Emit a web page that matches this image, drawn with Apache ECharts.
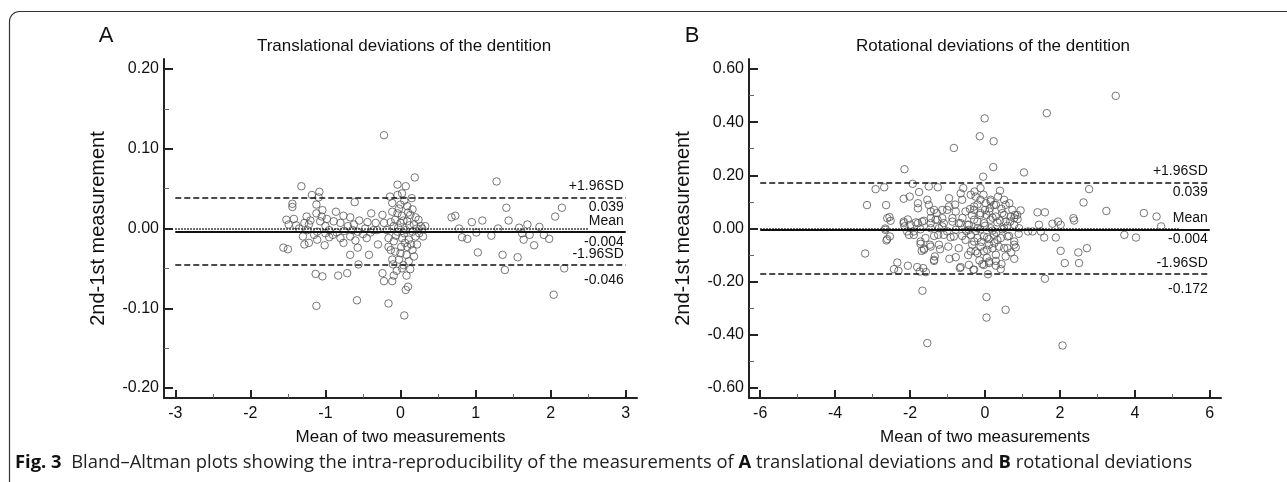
<!DOCTYPE html>
<html>
<head>
<meta charset="utf-8">
<script src="https://cdn.jsdelivr.net/npm/echarts@6/dist/echarts.min.js"></script>
<style>
html,body{margin:0;padding:0;background:#fff;}
#chart{width:1287px;height:482px;}
</style>
</head>
<body>
<div id="chart"></div>
<script>
// ---------------- DATA ----------------
const panelLetters = ['A', 'B'];
const panelTitles = ['Translational deviations of the dentition', 'Rotational deviations of the dentition'];
const xAxisName = 'Mean of two measurements';
const yAxisName = '2nd-1st measurement';

// Panel A: translational deviations [mean, difference]
const translationalPoints = [
  [-1.32,0.053],[-1.08,0.046],[-1.18,0.042],[-1.09,0.039],[-1.44,0.031],[-1.44,0.027],[-1.12,0.030],[-1.04,0.023],
  [-0.61,0.033],[-1.52,0.011],[-1.42,0.012],[-1.12,0.019],[-0.86,0.021],[-0.76,0.016],[-0.67,0.014],[-0.39,0.019],
  [-1.49,0.005],[-1.39,0.004],[-1.28,0.007],[-1.22,0.005],[-1.07,0.009],[-0.98,0.012],[-0.89,0.009],[-0.80,0.007],
  [-0.62,0.005],[-0.44,0.008],[-0.33,0.007],[-1.24,-0.002],[-1.11,-0.004],[-1.00,-0.006],[-0.85,-0.005],[-0.75,-0.003],
  [-0.64,-0.002],[-0.57,-0.004],[-0.47,0.000],[-0.36,-0.002],[-1.28,-0.020],[-1.22,-0.018],[-1.11,-0.014],[-1.01,-0.021],
  [-0.95,-0.011],[-0.76,-0.018],[-0.67,-0.010],[-0.57,-0.024],[-0.45,-0.012],[-0.30,-0.020],[-1.56,-0.024],[-1.50,-0.026],
  [-0.67,-0.033],[-0.56,-0.045],[-0.42,-0.033],[-1.13,-0.057],[-1.04,-0.060],[-0.83,-0.059],[-0.71,-0.056],[-1.12,-0.097],
  [-0.58,-0.090],[-1.20,0.010],[-1.15,-0.008],[-1.00,0.003],[-0.95,-0.002],[-0.90,-0.008],[-0.70,0.003],[-0.55,0.010],
  [-0.50,-0.007],[-1.30,-0.010],[-1.35,0.000],[-1.25,0.015],[-1.05,0.015],[-0.80,-0.012],[-0.60,-0.015],[-0.40,-0.005],
  [-0.22,0.117],[0.19,0.064],[-0.04,0.055],[0.07,0.053],[-0.04,0.042],[-0.11,0.032],[0.00,0.030],[0.09,0.028],
  [0.16,0.024],[-0.11,0.021],[-0.04,0.019],[0.02,0.016],[0.13,0.017],[0.20,0.014],[0.24,0.011],[-0.07,0.011],
  [-0.13,0.008],[0.00,0.007],[0.09,0.009],[0.18,0.005],[0.27,0.003],[0.33,0.003],[-0.24,0.017],[-0.22,0.007],
  [-0.09,0.003],[-0.18,-0.002],[-0.04,-0.004],[0.07,-0.002],[0.16,-0.004],[-0.31,-0.002],[-0.16,-0.012],[-0.09,-0.016],
  [0.02,-0.012],[0.11,-0.014],[0.20,-0.010],[-0.16,-0.023],[-0.13,-0.027],[-0.07,-0.029],[0.00,-0.031],[0.09,-0.023],
  [0.16,-0.027],[0.22,-0.020],[0.18,-0.035],[0.11,-0.041],[-0.02,-0.039],[-0.11,-0.039],[0.02,-0.050],[0.04,-0.046],
  [0.13,-0.051],[-0.09,-0.059],[-0.11,-0.066],[-0.22,-0.066],[-0.24,-0.056],[0.07,-0.077],[0.10,-0.073],[-0.16,-0.094],
  [0.05,-0.109],[0.05,0.035],[-0.02,0.025],[0.12,0.004],[0.05,-0.006],[-0.06,-0.009],[0.14,-0.020],[0.06,-0.018],
  [0.01,-0.023],[-0.03,0.001],[0.22,0.000],[0.10,0.020],[0.04,0.010],[-0.10,-0.045],[0.08,-0.033],[0.02,0.044],
  [0.25,-0.006],[0.15,0.038],[-0.14,0.040],[0.08,-0.059],[-0.05,-0.053],
  [1.28,0.059],[1.41,0.026],[2.15,0.026],[2.06,0.015],[0.68,0.014],[0.73,0.016],[0.95,0.008],[1.09,0.010],
  [1.44,0.010],[1.69,0.005],[1.58,0.001],[0.78,0.000],[1.30,0.000],[1.85,0.002],[0.82,-0.011],[0.89,-0.013],
  [1.01,-0.005],[1.21,-0.009],[1.62,-0.006],[1.64,-0.014],[1.72,-0.008],[1.91,-0.008],[1.98,-0.013],[1.78,-0.021],
  [1.03,-0.030],[1.36,-0.033],[1.56,-0.036],[1.39,-0.052],[2.18,-0.050],[2.04,-0.083],[0.30,-0.010],[0.29,0.000]
];

// Panel B: rotational deviations [mean, difference]
const rotationalPoints = [
  [3.49,0.499],[1.65,0.434],[-0.01,0.414],[-0.14,0.347],[0.23,0.328],[-0.83,0.303],[0.22,0.231],[1.04,0.211],
  [-0.05,0.195],[-2.15,0.223],[2.78,0.148],[2.63,0.098],[3.24,0.066],[4.24,0.058],[4.58,0.045],[4.70,0.008],
  [3.72,-0.024],[4.03,-0.034],[2.36,0.039],[2.38,0.030],[1.95,0.026],[2.02,0.014],[1.80,0.018],[1.44,0.014],
  [1.40,0.061],[1.60,0.061],[0.95,0.068],[0.80,0.051],[0.87,0.035],[1.15,-0.011],[1.27,-0.011],[1.49,-0.011],
  [1.58,-0.034],[1.89,-0.034],[2.02,-0.084],[2.49,-0.090],[2.72,-0.074],[2.13,-0.130],[2.51,-0.130],[1.60,-0.189],
  [0.04,-0.258],[0.55,-0.306],[0.04,-0.335],[2.07,-0.440],[-1.54,-0.431],[-1.67,-0.234],
  [-0.38,0.127],[-0.12,0.152],[-0.04,0.127],[0.15,0.102],[0.40,0.142],[0.51,0.108],[0.29,0.089],[0.44,0.074],
  [0.11,0.064],[-0.13,0.051],[-0.29,0.083],[0.20,0.041],[0.51,0.051],[0.78,0.039],[0.67,0.026],[0.91,0.001],
  [0.51,0.001],[0.15,0.001],[-0.20,0.001],[0.60,-0.030],[0.33,-0.043],[-0.03,-0.030],[-0.29,-0.049],[0.78,-0.049],
  [0.82,-0.071],[0.51,-0.074],[0.20,-0.074],[-0.03,-0.086],[-0.25,-0.086],[0.55,-0.105],[0.29,-0.122],[0.44,-0.134],
  [0.11,-0.130],[-0.07,-0.134],[0.08,-0.172],[0.78,-0.114],[-0.31,-0.155],
  [-2.92,0.148],[-2.69,0.155],[-1.93,0.168],[-3.15,0.088],[-2.64,0.088],[-2.55,0.043],[-2.52,0.029],[-2.66,0.000],
  [-2.63,-0.045],[-2.54,-0.030],[-3.20,-0.094],[-2.34,-0.128],[-2.43,-0.153],[-2.31,-0.159],[-2.06,-0.140],[-1.81,-0.145],
  [-1.65,-0.149],[-1.74,-0.162],[-1.58,-0.164],[-2.17,0.112],[-2.01,0.120],[-1.76,0.137],[-1.50,0.158],[-1.26,0.155],
  [-1.54,0.108],[-1.79,0.095],[-1.79,0.076],[-1.45,0.064],[-1.29,0.058],[-1.01,0.070],[-0.96,0.114],[-0.96,0.083],
  [-2.17,0.020],[-2.06,0.034],[-1.99,0.014],[-1.79,0.020],[-1.63,0.029],[-1.45,0.020],[-1.32,0.033],[-1.14,0.039],
  [-0.87,0.039],[-0.65,0.132],[-0.58,0.152],[-0.52,0.064],[-0.40,0.073],[-0.70,0.020],[-0.47,0.014],[-0.29,0.033],
  [-2.15,0.008],[-2.03,-0.024],[-1.72,-0.049],[-1.69,-0.084],[-1.47,-0.061],[-1.63,-0.076],[-1.34,-0.105],[-1.36,-0.122],
  [-1.20,-0.078],[-1.25,-0.024],[-1.01,-0.011],[-0.98,-0.068],[-0.78,-0.108],[-0.67,-0.149],[-0.43,-0.137],[-0.29,-0.155],
  [-0.70,-0.074],[-0.52,-0.043],[-0.38,-0.024],[-0.25,-0.009],[-0.83,-0.030],[-1.45,0.001],[-1.14,0.008],[-1.90,-0.011],
  [-0.95,-0.114],
  [-0.28,0.139],[-1.50,0.089],[-0.61,0.108],[-0.25,0.120],[-0.12,0.108],[0.02,0.095],[0.15,0.108],[0.24,0.089],
  [0.13,0.076],[0.55,0.089],[0.73,0.070],[-1.36,0.070],[-1.14,0.070],[-0.78,0.064],[-0.29,0.070],[-0.12,0.058],
  [0.04,0.051],[0.29,0.045],[0.46,0.058],[0.69,0.045],[0.86,0.051],[-2.61,0.039],[-2.17,0.026],[-1.85,0.023],
  [-1.68,0.026],[-1.45,0.039],[-1.27,0.033],[-1.10,0.020],[-0.87,0.026],[-0.65,0.020],[-0.43,0.014],[-0.20,0.026],
  [-0.03,0.020],[0.15,0.033],[0.33,0.023],[0.55,0.026],[0.78,0.014],[-2.66,-0.005],[-2.08,-0.011],[-1.72,-0.003],
  [-1.23,0.001],[-0.78,-0.005],[-0.43,-0.005],[-0.12,-0.003],[0.20,-0.008],[0.46,-0.003],[-2.61,-0.040],[-1.90,-0.024],
  [-1.59,-0.036],[-1.36,-0.028],[-1.10,-0.024],[-0.92,-0.033],[-0.61,-0.028],[-0.20,-0.036],[0.06,-0.033],[0.24,-0.024],
  [0.42,-0.036],[0.64,-0.028],[-1.72,-0.058],[-1.45,-0.068],[-1.23,-0.061],[-0.34,-0.061],[-0.12,-0.068],[0.11,-0.061],
  [0.37,-0.068],[0.60,-0.074],[0.78,-0.061],[-1.63,-0.080],[-0.38,-0.086],[-0.20,-0.093],[0.06,-0.080],[0.29,-0.099],
  [-1.36,-0.118],[-0.65,-0.145],[-0.03,-0.137],[0.11,-0.124],[0.29,-0.140],[0.42,-0.153],
  [0.00,0.010],[0.30,-0.015],[-0.50,-0.010],[0.60,0.010],[-0.10,-0.050],[0.35,0.120],[0.10,-0.040],[-0.60,0.040],
  [0.70,-0.090],[-0.20,0.090],[0.00,0.070],[0.25,-0.055],[0.40,0.030],[-0.35,0.050],[0.05,-0.110],[-0.15,-0.120],
  [0.90,-0.020],[-0.80,0.090],[-0.45,-0.100],[0.65,0.095]
];

// Limits of agreement: [upper, mean, lower]
const transLimitValues = [0.039, -0.004, -0.046];
const rotLimitValues = [0.173, -0.004, -0.172];
const limitNames = ['+1.96SD', 'Mean', '-1.96SD'];
const transLimitLabels = ['0.039', '-0.004', '-0.046'];
const rotLimitLabels = ['0.039', '-0.004', '-0.172'];
const zeroLineEnd = [2.5, 5.2];

// Axis ticks
const transXMajor = [-3, -2, -1, 0, 1, 2, 3];
const transXMinor = [-2.5, -1.5, -0.5, 0.5, 1.5, 2.5];
const transYMajor = [-0.2, -0.1, 0, 0.1, 0.2];
const transYMinor = [-0.15, -0.05, 0.05, 0.15];
const rotXMajor = [-6, -4, -2, 0, 2, 4, 6];
const rotXMinor = [-5, -3, -1, 1, 3, 5];
const rotYMajor = [-0.6, -0.4, -0.2, 0, 0.2, 0.4, 0.6];
const rotYMinor = [-0.5, -0.3, -0.1, 0.1, 0.3, 0.5];
const transXRange = [-3.15, 3.15];
const transYRange = [-0.2125, 0.2125];
const rotXRange = [-6.3, 6.3];
const rotYRange = [-0.6376, 0.6376];

const captionText = '{b|Fig. 3}  Bland\u2013Altman plots showing the intra-reproducibility of the measurements of {b|A} translational deviations and {b|B} rotational deviations';

// ---------------- CHART ----------------
const FONT = '"Liberation Sans", Arial, sans-serif';
const CAPFONT = '"Open Sans", "Noto Sans", sans-serif';
const AX = '#222';
const chart = echarts.init(document.getElementById('chart'), null, {renderer: 'canvas'});

const grids = [
  {left: 164, top: 59, width: 473, height: 339, containLabel: false},
  {left: 749, top: 59, width: 472, height: 339, containLabel: false}
];

function majorX(gi, range, ticks) {
  return {
    type: 'value', gridIndex: gi, min: range[0], max: range[1], position: 'bottom',
    name: xAxisName, nameLocation: 'middle', nameGap: 31,
    nameTextStyle: {fontFamily: FONT, fontSize: 17, color: '#111'},
    axisLine: {show: true, onZero: false, lineStyle: {color: AX, width: 2}},
    axisTick: {show: true, inside: true, length: 8, customValues: ticks, lineStyle: {color: AX, width: 2}},
    axisLabel: {show: true, customValues: ticks, margin: 8, fontFamily: FONT, fontSize: 16, color: '#111', formatter: v => String(v)},
    splitLine: {show: false}
  };
}
function minorX(gi, range, ticks) {
  return {
    type: 'value', gridIndex: gi, min: range[0], max: range[1], position: 'bottom',
    axisLine: {show: false, onZero: false},
    axisTick: {show: true, inside: true, length: 4, customValues: ticks, lineStyle: {color: '#666', width: 1}},
    axisLabel: {show: false}, splitLine: {show: false}
  };
}
function majorY(gi, range, ticks) {
  return {
    type: 'value', gridIndex: gi, min: range[0], max: range[1], position: 'left',
    name: yAxisName, nameLocation: 'middle', nameGap: 56,
    nameTextStyle: {fontFamily: FONT, fontSize: 20, color: '#111'},
    axisLine: {show: true, onZero: false, lineStyle: {color: AX, width: 2}},
    axisTick: {show: true, inside: true, length: 9, customValues: ticks, lineStyle: {color: AX, width: 2}},
    axisLabel: {show: true, customValues: ticks, margin: 5, fontFamily: FONT, fontSize: 16, color: '#111', formatter: v => v.toFixed(2)},
    splitLine: {show: false}
  };
}
function minorY(gi, range, ticks) {
  return {
    type: 'value', gridIndex: gi, min: range[0], max: range[1], position: 'left', offset: 0,
    axisLine: {show: false, onZero: false},
    axisTick: {show: true, inside: true, length: 5, customValues: ticks, lineStyle: {color: '#666', width: 1}},
    axisLabel: {show: false}, splitLine: {show: false}
  };
}

function limitLines(xr, vals, bottomLabels, zeroEnd) {
  const data = [];
  const styles = [
    {type: [6, 3], width: 1.6},
    {type: 'solid', width: 1.8},
    {type: [6, 3], width: 1.6}
  ];
  vals.forEach((v, i) => {
    data.push([
      {coord: [xr[0], v], lineStyle: Object.assign({color: '#111'}, styles[i]),
       label: {show: true, position: 'insideEndTop', formatter: limitNames[i], distance: [2, 4],
               fontFamily: FONT, fontSize: 14, color: '#111'}},
      {coord: [xr[1], v]}
    ]);
    data.push([
      {coord: [xr[0], v], lineStyle: {color: 'rgba(0,0,0,0)', width: 1},
       label: {show: true, position: 'insideEndBottom', formatter: bottomLabels[i], distance: [2, i === 2 ? 8 : 3],
               fontFamily: FONT, fontSize: 14, color: '#111'}},
      {coord: [xr[1], v]}
    ]);
  });
  data.push([
    {coord: [xr[0], 0], lineStyle: {color: '#000', type: [1.5, 1.5], width: 1.6}, label: {show: false}},
    {coord: [zeroEnd, 0]}
  ]);
  return {silent: true, symbol: ['none', 'none'], animation: false, data: data};
}

function scatter(gi, pts, xr, vals, bottomLabels, zeroEnd) {
  return {
    type: 'scatter', xAxisIndex: gi * 2, yAxisIndex: gi * 2, data: pts,
    symbol: 'circle', symbolSize: 7.5,
    itemStyle: {color: 'rgba(255,255,255,0)', borderColor: '#555', borderWidth: 1},
    emphasis: {disabled: true}, animation: false,
    markLine: limitLines(xr, vals, bottomLabels, zeroEnd),
    z: 2
  };
}

const option = {
  backgroundColor: '#fff',
  animation: false,
  grid: grids,
  xAxis: [
    majorX(0, transXRange, transXMajor), minorX(0, transXRange, transXMinor),
    majorX(1, rotXRange, rotXMajor), minorX(1, rotXRange, rotXMinor)
  ],
  yAxis: [
    majorY(0, transYRange, transYMajor), minorY(0, transYRange, transYMinor),
    majorY(1, rotYRange, rotYMajor), minorY(1, rotYRange, rotYMinor)
  ],
  series: [
    scatter(0, translationalPoints, [-3, 3], transLimitValues, transLimitLabels, zeroLineEnd[0]),
    scatter(1, rotationalPoints, [-6, 6], rotLimitValues, rotLimitLabels, zeroLineEnd[1])
  ],
  graphic: [
    {type: 'rect', shape: {x: 9.5, y: 11.5, width: 1400, height: 490, r: 10}, silent: true,
     style: {fill: 'none', stroke: '#333', lineWidth: 1.2}},
    {type: 'text', x: 106, y: 36, style: {text: panelLetters[0], font: '22px ' + FONT, fill: '#111', align: 'center', verticalAlign: 'middle'}},
    {type: 'text', x: 692, y: 36, style: {text: panelLetters[1], font: '22px ' + FONT, fill: '#111', align: 'center', verticalAlign: 'middle'}},
    {type: 'text', x: 404, y: 46, style: {text: panelTitles[0], font: '17px ' + FONT, fill: '#111', align: 'center', verticalAlign: 'middle'}},
    {type: 'text', x: 993, y: 46, style: {text: panelTitles[1], font: '17px ' + FONT, fill: '#111', align: 'center', verticalAlign: 'middle'}},
    {type: 'text', x: 15, y: 463, style: {
      text: captionText, fontFamily: CAPFONT, fontSize: 18.4, fill: '#222',
      align: 'left', verticalAlign: 'middle',
      rich: {b: {fontFamily: CAPFONT, fontSize: 18.4, fontWeight: 'bold', fill: '#111'}}
    }}
  ]
};
chart.setOption(option);
</script>
</body>
</html>
